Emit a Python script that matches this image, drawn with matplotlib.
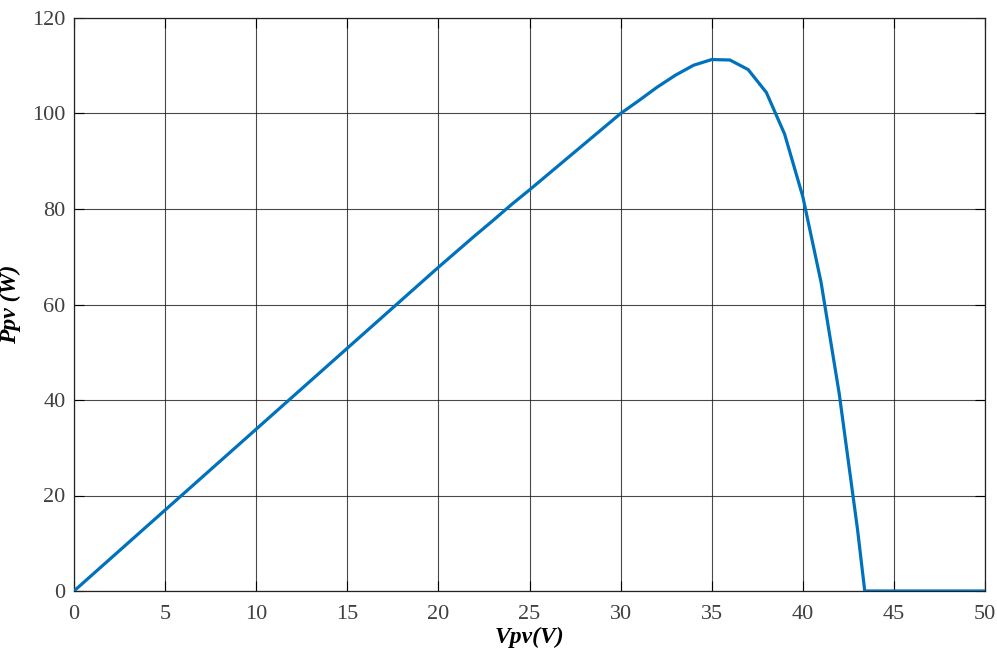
import matplotlib
matplotlib.use("Agg")
import matplotlib.pyplot as plt

# PV array voltage (V) and power (W)
vpv = [0, 1, 2, 3, 4, 5, 6, 7, 8, 9, 10, 11, 12, 13, 14, 15, 16, 17, 18, 19, 20,
       21, 22, 23, 24, 25, 26, 27, 28, 29, 30, 31, 32, 33, 34, 35, 36, 37, 38, 39,
       40, 41, 42, 43, 43.4, 44, 45, 46, 47, 48, 49, 50]
ppv = [0, 3.39, 6.78, 10.17, 13.56, 16.95, 20.34, 23.73, 27.12, 30.51, 33.9,
       37.29, 40.68, 44.07, 47.46, 50.85, 54.24, 57.63, 61.02, 64.41, 67.8,
       71.1, 74.4, 77.6, 80.9, 84.0, 87.2, 90.4, 93.6, 96.8, 100.0,
       102.7, 105.5, 108.0, 110.1, 111.3, 111.2, 109.2, 104.4, 95.7,
       82.6, 64.7, 41.3, 13.0, 0, 0, 0, 0, 0, 0, 0, 0]

xticks = [0, 5, 10, 15, 20, 25, 30, 35, 40, 45, 50]
yticks = [0, 20, 40, 60, 80, 100, 120]

plt.rcParams['font.family'] = ['Liberation Serif', 'DejaVu Serif']

fig = plt.figure(figsize=(9.97, 6.55), dpi=100)
ax = fig.add_axes([74/997, 64/655, 911/997, 573/655])

ax.plot(vpv, ppv, color='#0072BD', linewidth=2.3, solid_joinstyle='miter', zorder=3)

ax.set_xlim(0, 50)
ax.set_ylim(0, 120)
ax.set_xticks(xticks)
ax.set_yticks(yticks)
ax.grid(True, color='#1a1a1a', linewidth=0.8, alpha=0.8)
ax.tick_params(direction='in', length=7, width=0.8, top=True, right=True,
               labelsize=16, labelcolor='#404040')
ax.tick_params(axis='y', pad=6)
ax.tick_params(axis='x', pad=10)
for s in ax.spines.values():
    s.set_linewidth(0.9)
    s.set_color('#222222')

ax.set_xlabel('Vpv(V)', fontsize=17, fontweight='bold', fontstyle='italic', labelpad=2)
ax.set_ylabel('Ppv (W)', fontsize=17, fontweight='bold', fontstyle='italic')
ax.yaxis.set_label_coords(-0.058, 0.5)

fig.savefig('out.png', dpi=100)
